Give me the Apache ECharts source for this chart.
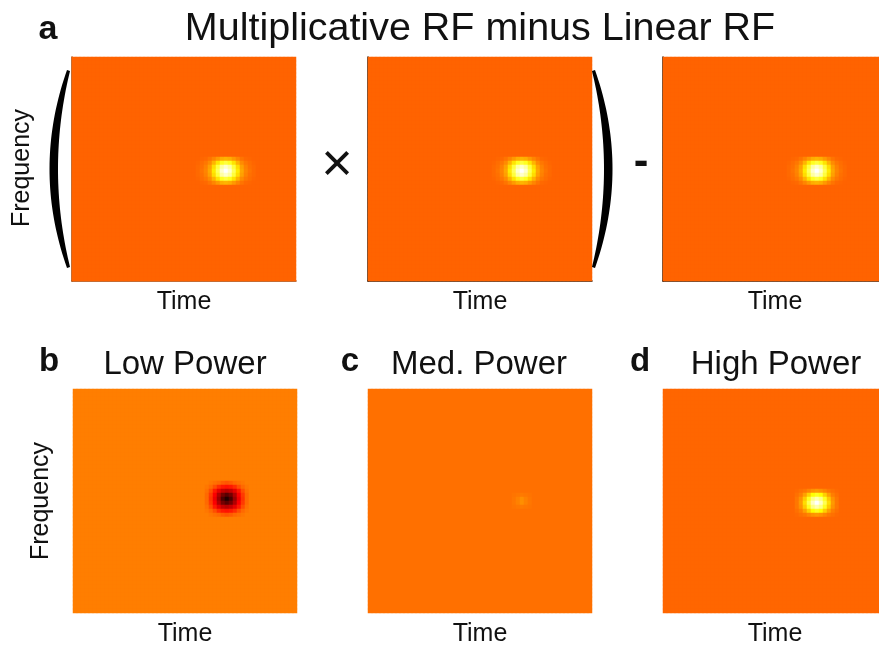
<!DOCTYPE html>
<html>
<head>
<meta charset="utf-8">
<script src="https://cdn.jsdelivr.net/npm/echarts@6/dist/echarts.min.js"></script>
<style>
html,body{margin:0;padding:0;background:#fff;overflow:hidden;width:879px;height:648px;}
#chart{width:888px;height:648px;}
</style>
</head>
<body>
<div id="chart"></div>
<script>
// ---- data ----
const timeBins = 56;
const freqBins = 56;
const panelTitles = ['', '', '', 'Low Power', 'Med. Power', 'High Power'];
const panelBackground = [0.52, 0.52, 0.52, 0.56, 0.54, 0.525];
const spotColumn = [38, 38, 38, 38, 38, 38];
const spotRow = [28, 28, 28, 27, 28, 28];

const rfSpot = [
  [0.52,0.525,0.53,0.545,0.57,0.60,0.63,0.64,0.63,0.60,0.57,0.545,0.53,0.525,0.52],
  [0.525,0.535,0.55,0.58,0.64,0.71,0.78,0.81,0.78,0.71,0.64,0.58,0.55,0.535,0.525],
  [0.53,0.54,0.565,0.61,0.70,0.81,0.91,0.95,0.91,0.81,0.70,0.61,0.565,0.54,0.53],
  [0.53,0.545,0.57,0.62,0.72,0.84,0.95,1.00,0.95,0.84,0.72,0.62,0.57,0.545,0.53],
  [0.53,0.54,0.565,0.61,0.70,0.81,0.91,0.95,0.91,0.81,0.70,0.61,0.565,0.54,0.53],
  [0.525,0.535,0.55,0.58,0.64,0.71,0.78,0.81,0.78,0.71,0.64,0.58,0.55,0.535,0.525],
  [0.52,0.525,0.53,0.545,0.57,0.60,0.63,0.64,0.63,0.60,0.57,0.545,0.53,0.525,0.52]
];
const lowSpot = [
  [0.56,0.55,0.54,0.53,0.51,0.50,0.51,0.53,0.54,0.55,0.56],
  [0.55,0.53,0.49,0.44,0.41,0.40,0.41,0.44,0.49,0.53,0.55],
  [0.54,0.49,0.41,0.34,0.29,0.27,0.29,0.34,0.41,0.49,0.54],
  [0.53,0.46,0.37,0.26,0.17,0.13,0.17,0.26,0.37,0.46,0.53],
  [0.53,0.45,0.35,0.23,0.11,0.05,0.11,0.23,0.35,0.45,0.53],
  [0.53,0.46,0.37,0.26,0.17,0.13,0.17,0.26,0.37,0.46,0.53],
  [0.54,0.49,0.41,0.34,0.29,0.27,0.29,0.34,0.41,0.49,0.54],
  [0.55,0.53,0.49,0.44,0.41,0.40,0.41,0.44,0.49,0.53,0.55],
  [0.56,0.55,0.54,0.53,0.51,0.50,0.51,0.53,0.54,0.55,0.56]
];
const medSpot = [
  [0.545,0.55,0.555,0.55,0.545],
  [0.55,0.565,0.585,0.565,0.55],
  [0.55,0.565,0.585,0.565,0.55],
  [0.545,0.55,0.555,0.55,0.545]
];
const highSpot = [
  [0.53,0.54,0.55,0.57,0.59,0.60,0.59,0.57,0.55,0.54,0.53],
  [0.54,0.56,0.61,0.68,0.75,0.78,0.75,0.68,0.61,0.56,0.54],
  [0.55,0.59,0.67,0.78,0.88,0.92,0.88,0.78,0.67,0.59,0.55],
  [0.55,0.60,0.70,0.83,0.94,1.00,0.94,0.83,0.70,0.60,0.55],
  [0.55,0.59,0.67,0.78,0.88,0.92,0.88,0.78,0.67,0.59,0.55],
  [0.54,0.56,0.61,0.68,0.75,0.78,0.75,0.68,0.61,0.56,0.54],
  [0.53,0.54,0.55,0.57,0.59,0.60,0.59,0.57,0.55,0.54,0.53]
];
const panelSpots = [rfSpot, rfSpot, rfSpot, lowSpot, medSpot, highSpot];

// 'hot' colormap stops (evenly spaced 0..1)
const hotColors = ['#000000','#550000','#aa0000','#ff0000','#ff5500','#ffaa00','#ffff00','#ffff80','#ffffff'];

// ---- layout ----
const panelLeft = [72, 368, 663, 73, 368, 663];
const panelTop = [57, 57, 57, 389, 389, 389];
const panelSize = 224;
const axisLineColor = ['#9a4208', '#2a1200', '#2a1200', null, null, null];

const timeCats = Array.from({length: timeBins}, (_, i) => i);
const freqCats = Array.from({length: freqBins}, (_, i) => i);

function buildPanel(p) {
  const spot = panelSpots[p];
  const h = spot.length, w = spot[0].length;
  const r0 = spotRow[p] - Math.floor(h / 2);
  const c0 = spotColumn[p] - Math.floor(w / 2);
  const out = [];
  for (let t = 0; t < timeBins; t++) {
    for (let f = 0; f < freqBins; f++) {
      let v = panelBackground[p];
      const rr = f - r0, cc = t - c0;
      if (rr >= 0 && rr < h && cc >= 0 && cc < w) v = spot[rr][cc];
      out.push([t, f, v]);
    }
  }
  return out;
}

const grids = [], xAxes = [], yAxes = [], series = [];
for (let p = 0; p < 6; p++) {
  grids.push({left: panelLeft[p], top: panelTop[p], width: panelSize, height: panelSize, containLabel: false});
  const lc = axisLineColor[p];
  xAxes.push({type: 'category', gridIndex: p, data: timeCats, boundaryGap: true,
    axisLine: {show: !!lc, lineStyle: {color: lc || '#000', width: 1.5}},
    axisTick: {show: false}, axisLabel: {show: false}, splitLine: {show: false}});
  yAxes.push({type: 'category', gridIndex: p, data: freqCats, inverse: true, boundaryGap: true,
    axisLine: {show: !!lc, lineStyle: {color: lc || '#000', width: 1.5}},
    axisTick: {show: false}, axisLabel: {show: false}, splitLine: {show: false}});
  series.push({type: 'heatmap', xAxisIndex: p, yAxisIndex: p, data: buildPanel(p),
    progressive: 0, itemStyle: {borderWidth: 0}, emphasis: {disabled: true}});
}

const FONT = '"Liberation Sans", Arial, Helvetica, sans-serif';
function txt(text, x, y, size, weight, rot) {
  return {type: 'text', x: x, y: y, rotation: rot || 0, z: 100,
    style: {text: text, x: 0, y: 0, align: 'center', verticalAlign: 'middle',
      fill: '#111', fontSize: size, fontWeight: weight || 'normal', fontFamily: FONT}};
}

// crescent-shaped bracket polygon (decoration geometry)
function bracket(xEnd, xOuterCtrl, xInnerCtrl, yTop, yBot, endW) {
  const pts = [];
  const n = 40, yMid = (yTop + yBot) / 2;
  for (let i = 0; i <= n; i++) {
    const t = i / n;
    const x = (1 - t) * (1 - t) * xEnd + 2 * t * (1 - t) * xOuterCtrl + t * t * xEnd;
    const y = (1 - t) * (1 - t) * yTop + 2 * t * (1 - t) * yMid + t * t * yBot;
    pts.push([x, y]);
  }
  for (let i = n; i >= 0; i--) {
    const t = i / n;
    const xe = xEnd + endW;
    const x = (1 - t) * (1 - t) * xe + 2 * t * (1 - t) * xInnerCtrl + t * t * xe;
    const y = (1 - t) * (1 - t) * (yTop + 1) + 2 * t * (1 - t) * yMid + t * t * (yBot - 1);
    pts.push([x, y]);
  }
  return {type: 'polygon', z: 100, shape: {points: pts}, style: {fill: '#000'}};
}

const graphics = [
  txt('a', 48, 30, 34, 'bold'),
  txt('Multiplicative RF minus Linear RF', 480, 29, 39.5),
  txt('Frequency', 22, 168, 25, 'normal', Math.PI / 2),
  txt('Time', 184, 302, 25), txt('Time', 480, 302, 25), txt('Time', 775, 302, 25),
  txt('×', 337, 166, 54),
  txt('-', 641, 163, 44, 'bold'),
  txt('b', 49, 362, 33, 'bold'),
  txt('c', 350, 362, 33, 'bold'),
  txt('d', 640, 362, 33, 'bold'),
  txt(panelTitles[3], 185, 365, 33),
  txt(panelTitles[4], 479, 365, 33),
  txt(panelTitles[5], 776, 365, 33),
  txt('Frequency', 41, 501, 25, 'normal', Math.PI / 2),
  txt('Time', 185, 634, 25), txt('Time', 480, 634, 25), txt('Time', 775, 634, 25),
  bracket(67, 32, 46, 70, 268, 3),
  bracket(595, 630, 616, 70, 268, -3)
];

const chart = echarts.init(document.getElementById('chart'), null, {renderer: 'canvas'});
chart.setOption({
  animation: false,
  backgroundColor: '#ffffff',
  grid: grids,
  xAxis: xAxes,
  yAxis: yAxes,
  visualMap: {type: 'continuous', min: 0, max: 1, show: false, calculable: false,
    seriesIndex: [0,1,2,3,4,5], inRange: {color: hotColors}},
  series: series,
  graphic: graphics
});
</script>
</body>
</html>
